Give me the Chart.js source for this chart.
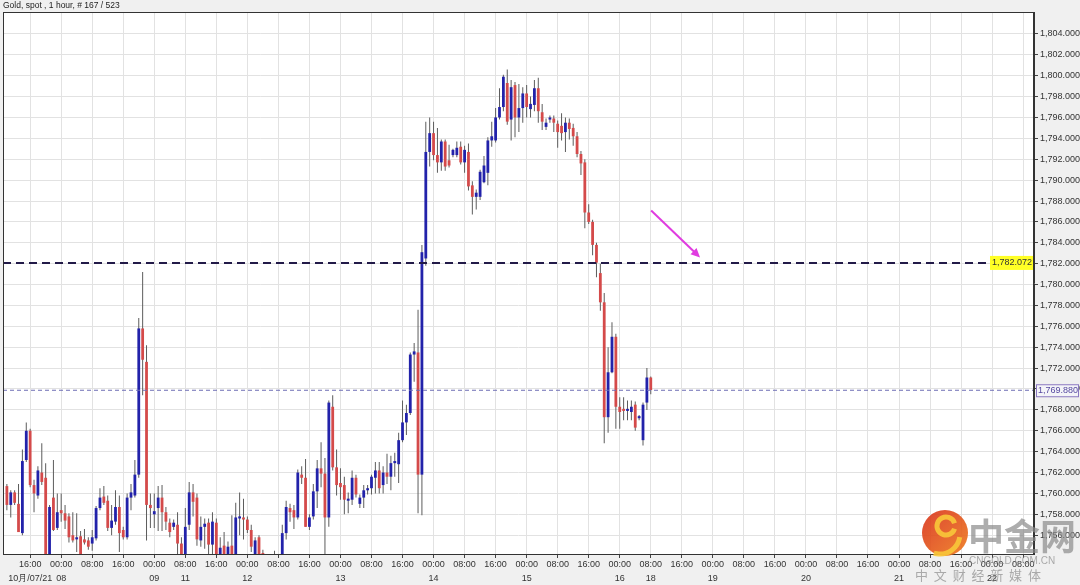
<!DOCTYPE html>
<html>
<head>
<meta charset="utf-8">
<script src="https://cdn.jsdelivr.net/npm/chart.js@4.4.1/dist/chart.umd.min.js"></script>
<style>
  html, body { margin: 0; padding: 0; background: #f0f0f0; }
  #wrap { width: 1080px; height: 585px; }
</style>
</head>
<body>
<div id="wrap"><canvas id="grafico_ouro" width="1080" height="585"></canvas></div>
<script>
// barras de 1 hora, a primeira fica 6 horas antes do tick "16:00" de 10/07
const primeiraHora = -6;

const aberturas = [
  1760.7, 1758.9, 1760.1, 1759.0, 1756.2, 1763.2,
  1766.0, 1760.8, 1759.8, 1762.0, 1761.5, 1753.8, 1759.6, 1756.7, 1758.4, 1758.1,
  1757.8, 1756.0, 1755.6, 1755.9, 1755.6, 1755.5, 1755.2, 1755.7, 1758.6, 1759.7,
  1759.3, 1756.7, 1757.3, 1758.7, 1756.5, 1755.8, 1759.6, 1759.8, 1761.8, 1775.8,
  1772.6, 1758.9, 1758.0, 1758.6, 1759.6, 1758.2, 1757.2, 1756.8, 1757.0, 1755.2,
  1753.9, 1757.0, 1760.1, 1759.6, 1755.5, 1756.8, 1757.2, 1755.1, 1757.2, 1753.9,
  1755.0, 1753.9, 1755.0, 1753.9, 1757.6, 1757.7, 1757.5, 1756.5, 1753.9, 1755.8,
  1754.3, 1753.9, 1753.5, 1753.7, 1753.4, 1753.8, 1756.2, 1758.6, 1758.4, 1757.7,
  1761.8, 1761.5, 1756.8, 1757.8, 1760.2, 1762.4, 1761.9, 1757.7, 1768.3, 1762.5,
  1761.0, 1760.8, 1759.3, 1759.4, 1761.5, 1759.0, 1759.6, 1760.3, 1760.5, 1761.5,
  1762.2, 1760.8, 1762.0, 1761.6, 1762.9, 1762.8, 1765.1, 1766.8, 1767.7, 1773.3,
  1773.5, 1761.8, 1782.5, 1792.7, 1794.5, 1792.4, 1791.7, 1793.7, 1791.9, 1792.4,
  1792.4, 1793.2, 1791.7, 1792.7, 1789.5, 1788.4, 1788.4, 1789.8, 1790.7, 1793.8,
  1793.8, 1796.0, 1797.0, 1799.3, 1795.8, 1799.1, 1796.0, 1796.9, 1798.3, 1796.8,
  1797.2, 1798.8, 1796.5, 1795.1, 1795.8, 1795.9, 1795.4, 1795.2, 1794.6, 1795.5,
  1795.0, 1794.2, 1792.5, 1791.7, 1786.9, 1786.0, 1783.8, 1781.1, 1778.3, 1767.3,
  1771.6, 1775.0, 1768.3, 1768.1, 1767.9, 1767.8, 1768.5, 1767.2, 1765.1, 1768.7,
  1771.1
];
const maximas = [
  1760.9, 1760.3, 1760.3, 1760.9, 1764.2, 1766.8,
  1766.2, 1761.3, 1762.6, 1764.8, 1762.9, 1758.9, 1763.2, 1760.0, 1760.0, 1758.9,
  1758.1, 1758.2, 1758.1, 1756.4, 1756.6, 1755.8, 1756.5, 1758.8, 1760.5, 1760.7,
  1759.8, 1758.9, 1760.3, 1759.8, 1756.8, 1760.0, 1760.9, 1763.2, 1776.8, 1781.2,
  1774.2, 1760.0, 1760.0, 1760.7, 1760.8, 1758.7, 1757.6, 1757.5, 1758.2, 1755.8,
  1758.6, 1761.1, 1760.9, 1760.0, 1757.8, 1757.6, 1757.6, 1758.2, 1757.6, 1755.8,
  1756.3, 1755.4, 1757.9, 1759.1, 1760.1, 1759.5, 1757.8, 1757.0, 1755.8, 1756.0,
  1754.6, 1754.0, 1753.9, 1754.5, 1753.9, 1757.0, 1759.3, 1759.0, 1758.9, 1762.3,
  1762.6, 1763.3, 1758.0, 1760.9, 1763.2, 1764.9, 1763.4, 1768.9, 1769.4, 1764.2,
  1762.4, 1761.6, 1760.1, 1762.2, 1761.8, 1759.9, 1760.8, 1760.8, 1761.8, 1763.0,
  1763.0, 1762.6, 1763.8, 1763.6, 1763.9, 1765.8, 1768.9, 1768.5, 1773.5, 1774.4,
  1777.6, 1783.8, 1795.6, 1796.0, 1795.6, 1795.0, 1793.9, 1793.9, 1793.4, 1793.0,
  1793.7, 1793.7, 1793.3, 1793.5, 1789.9, 1789.1, 1791.0, 1792.3, 1794.1, 1795.6,
  1796.9, 1798.8, 1800.1, 1800.6, 1799.6, 1799.4, 1799.2, 1798.9, 1799.1, 1798.0,
  1799.6, 1799.8, 1797.3, 1795.9, 1796.2, 1796.2, 1795.7, 1796.4, 1796.0, 1795.9,
  1795.4, 1794.6, 1792.8, 1792.0, 1787.7, 1786.2, 1784.0, 1782.0, 1779.2, 1774.0,
  1776.4, 1775.3, 1769.2, 1769.2, 1768.9, 1768.9, 1768.8, 1767.5, 1768.7, 1772.0,
  1771.2
];
const minimas = [
  1758.4, 1757.7, 1758.9, 1756.3, 1756.0, 1763.0,
  1760.6, 1758.2, 1759.5, 1760.8, 1753.6, 1753.6, 1756.4, 1756.5, 1757.3, 1756.6,
  1755.3, 1755.3, 1754.4, 1753.6, 1755.1, 1754.6, 1754.5, 1755.5, 1758.4, 1758.9,
  1756.4, 1756.0, 1757.0, 1754.4, 1755.6, 1755.6, 1758.4, 1759.6, 1761.5, 1769.4,
  1755.5, 1756.7, 1756.7, 1756.4, 1756.4, 1756.5, 1755.8, 1756.5, 1754.0, 1753.6,
  1753.6, 1756.5, 1757.8, 1755.0, 1754.9, 1754.7, 1753.8, 1753.8, 1753.6, 1753.6,
  1753.6, 1753.6, 1753.6, 1753.6, 1756.0, 1755.6, 1756.2, 1754.4, 1753.6, 1753.6,
  1753.6, 1753.2, 1753.0, 1753.2, 1753.0, 1753.6, 1755.6, 1757.3, 1756.6, 1757.5,
  1760.9, 1756.8, 1756.5, 1757.5, 1758.6, 1760.6, 1753.9, 1756.8, 1762.2, 1759.8,
  1759.4, 1758.0, 1758.1, 1758.9, 1759.6, 1758.6, 1758.6, 1759.9, 1759.9, 1760.0,
  1760.0, 1760.0, 1760.9, 1760.3, 1761.6, 1761.0, 1764.9, 1765.6, 1767.5, 1770.7,
  1758.1, 1757.9, 1781.8, 1791.3, 1791.9, 1790.7, 1790.9, 1790.9, 1791.2, 1792.2,
  1792.2, 1791.5, 1790.7, 1789.0, 1786.7, 1787.2, 1788.1, 1789.7, 1789.5, 1793.2,
  1793.6, 1795.8, 1796.6, 1795.3, 1793.8, 1794.1, 1794.6, 1795.5, 1796.0, 1796.0,
  1796.6, 1795.5, 1794.8, 1794.8, 1795.5, 1794.6, 1793.1, 1793.8, 1792.7, 1793.9,
  1793.3, 1792.2, 1790.5, 1785.4, 1785.8, 1782.8, 1780.7, 1777.5, 1764.8, 1765.8,
  1771.5, 1766.2, 1766.2, 1767.0, 1767.0, 1767.0, 1766.0, 1767.0, 1764.6, 1768.0,
  1769.5
];
const fechamentos = [
  1758.9, 1760.1, 1759.1, 1756.3, 1763.1, 1766.0,
  1760.8, 1760.0, 1762.2, 1761.1, 1753.8, 1758.7, 1756.5, 1758.2, 1758.1, 1757.4,
  1755.8, 1755.5, 1755.8, 1753.8, 1755.3, 1754.9, 1755.8, 1758.6, 1759.6, 1759.1,
  1756.7, 1757.4, 1758.7, 1756.2, 1755.8, 1759.6, 1760.1, 1761.8, 1775.8, 1772.8,
  1758.9, 1758.6, 1758.3, 1759.6, 1758.2, 1757.3, 1756.3, 1757.2, 1755.2, 1753.9,
  1756.8, 1760.1, 1759.2, 1755.6, 1756.8, 1757.1, 1755.1, 1757.3, 1753.9, 1754.8,
  1753.9, 1754.9, 1753.9, 1757.7, 1757.8, 1757.5, 1756.5, 1754.9, 1755.5, 1753.9,
  1754.0, 1753.5, 1753.7, 1753.4, 1753.8, 1756.2, 1758.7, 1758.2, 1757.7, 1762.0,
  1761.5, 1756.8, 1757.7, 1760.2, 1762.4, 1761.9, 1757.7, 1768.7, 1762.5, 1760.8,
  1760.6, 1759.4, 1759.5, 1761.5, 1759.9, 1759.6, 1760.3, 1760.5, 1761.6, 1762.2,
  1760.5, 1762.0, 1761.6, 1762.9, 1763.1, 1765.1, 1766.8, 1767.7, 1773.3, 1773.6,
  1761.8, 1783.1, 1792.7, 1794.5, 1792.4, 1791.7, 1793.7, 1791.3, 1791.4, 1792.9,
  1793.1, 1791.7, 1792.9, 1789.4, 1788.4, 1788.8, 1790.8, 1791.4, 1793.8, 1794.2,
  1796.0, 1797.0, 1799.9, 1795.6, 1798.9, 1796.0, 1796.9, 1798.3, 1797.0, 1797.3,
  1798.8, 1796.6, 1795.6, 1795.5, 1796.0, 1795.5, 1794.6, 1794.5, 1795.5, 1794.9,
  1794.2, 1792.5, 1791.6, 1786.9, 1786.0, 1783.8, 1782.1, 1778.3, 1767.3, 1771.6,
  1775.0, 1768.3, 1767.8, 1767.9, 1768.1, 1768.3, 1766.3, 1767.4, 1768.5, 1771.1,
  1769.9
];

// rótulos do eixo de tempo (um tick a cada 8 barras)
const horasEixo = ['16:00', '00:00', '08:00'];
const posDatas = [0, 8, 32, 40, 56, 80, 104, 128, 152, 160, 176, 200, 224, 248];
const textoDatas = ['10月/07/21', '08', '09', '11', '12', '13', '14', '15', '16', '18', '19', '20', '21', '22'];
const ticksPreco = [1756, 1758, 1760, 1762, 1764, 1766, 1768, 1770, 1772, 1774, 1776, 1778, 1780,
  1782, 1784, 1786, 1788, 1790, 1792, 1794, 1796, 1798, 1800, 1802, 1804];

const precoMarcado = 1782.072;
const ultimoPreco = 1769.88;

const xMin = -7, xMax = 258.8;
const ticksTempo = [];
for (let h = 0; h <= 256; h += 8) ticksTempo.push(h);

const azul = '#2222aa';
const vermelho = '#d44a4a';

const corpos = aberturas.map((o, i) => ({ x: i + primeiraHora, y: [o, fechamentos[i]] }));
const pavios = minimas.map((l, i) => ({ x: i + primeiraHora, y: [l, maximas[i]] }));
const coresCorpo = aberturas.map((o, i) => fechamentos[i] >= o ? azul : vermelho);

const fmtPreco = v => v.toLocaleString('en-US', { minimumFractionDigits: 3, maximumFractionDigits: 3 });

const fundo = {
  id: 'fundo',
  beforeDraw(chart) {
    const { ctx, chartArea: a } = chart;
    ctx.save();
    ctx.fillStyle = '#f0f0f0';
    ctx.fillRect(0, 0, chart.width, chart.height);
    ctx.fillStyle = '#ffffff';
    ctx.fillRect(a.left, a.top, a.right - a.left, a.bottom - a.top);
    ctx.restore();
  }
};

const extras = {
  id: 'extras',
  afterDraw(chart) {
    const { ctx, chartArea: a } = chart;
    const xs = chart.scales.x, ys = chart.scales.y;
    ctx.save();

    // moldura
    ctx.strokeStyle = '#333';
    ctx.lineWidth = 1;
    ctx.strokeRect(a.left + 0.5, a.top + 0.5, a.right - a.left - 1, a.bottom - a.top);

    // titulo
    ctx.fillStyle = '#222';
    ctx.font = '8.5px "Liberation Sans", Arial, sans-serif';
    ctx.textBaseline = 'middle';
    ctx.textAlign = 'left';
    ctx.fillText('Gold, spot , 1 hour, # 167 / 523', 3, 6);

    // etiqueta amarela
    ctx.font = '9px "Liberation Sans", Arial, sans-serif';
    let y = ys.getPixelForValue(precoMarcado);
    ctx.fillStyle = '#ffff26';
    ctx.fillRect(a.right - 44, y - 7, 43, 14);
    ctx.fillStyle = '#333';
    ctx.textAlign = 'right';
    ctx.fillText(fmtPreco(precoMarcado), a.right - 2, y);

    // etiqueta do ultimo preco
    y = ys.getPixelForValue(ultimoPreco);
    ctx.fillStyle = '#f4f4f8';
    ctx.fillRect(a.right + 2, y - 6, 43, 12);
    ctx.strokeStyle = '#8a78c0';
    ctx.strokeRect(a.right + 2.5, y - 5.5, 42, 12);
    ctx.fillStyle = '#5548a0';
    ctx.textAlign = 'left';
    ctx.fillText(fmtPreco(ultimoPreco), a.right + 4, y + 0.5);

    // seta magenta
    const x1 = xs.getPixelForValue(160.1), y1 = ys.getPixelForValue(1787.1);
    const x2 = xs.getPixelForValue(172.7), y2 = ys.getPixelForValue(1782.6);
    const ang = Math.atan2(y2 - y1, x2 - x1);
    ctx.strokeStyle = '#e03ce0';
    ctx.fillStyle = '#e03ce0';
    ctx.lineWidth = 2;
    ctx.beginPath();
    ctx.moveTo(x1, y1);
    ctx.lineTo(x2 - 6 * Math.cos(ang), y2 - 6 * Math.sin(ang));
    ctx.stroke();
    ctx.beginPath();
    ctx.moveTo(x2, y2);
    ctx.lineTo(x2 - 10 * Math.cos(ang - 0.45), y2 - 10 * Math.sin(ang - 0.45));
    ctx.lineTo(x2 - 10 * Math.cos(ang + 0.45), y2 - 10 * Math.sin(ang + 0.45));
    ctx.closePath();
    ctx.fill();

    // marca d'agua
    ctx.globalAlpha = 0.9;
    const g = ctx.createLinearGradient(922, 510, 968, 556);
    g.addColorStop(0, '#d8301a');
    g.addColorStop(1, '#ee7a1a');
    ctx.fillStyle = g;
    ctx.beginPath();
    ctx.arc(945, 533, 23, 0, Math.PI * 2);
    ctx.fill();
    ctx.strokeStyle = '#f8c83a';
    ctx.lineWidth = 5;
    ctx.beginPath();
    ctx.arc(946, 526, 9, Math.PI * 0.1, Math.PI * 1.9);
    ctx.stroke();
    ctx.beginPath();
    ctx.arc(940, 534, 20, Math.PI * 0.05, Math.PI * 0.6);
    ctx.stroke();

    ctx.globalAlpha = 0.7;
    ctx.fillStyle = '#8a8a8a';
    ctx.textAlign = 'left';
    ctx.textBaseline = 'alphabetic';
    ctx.font = 'bold 36px "Noto Sans CJK SC", sans-serif';
    ctx.fillText('中金网', 968, 550);
    ctx.font = '10px "Liberation Sans", Arial, sans-serif';
    ctx.fillText('CNGOLD.COM.CN', 969, 564);
    ctx.font = '13px "Noto Sans CJK SC", sans-serif';
    ctx.fillText('中  文  财  经  新  媒  体', 915, 580);
    ctx.restore();
  }
};

const ctx = document.getElementById('grafico_ouro').getContext('2d');
const grafico = new Chart(ctx, {
  type: 'bar',
  data: {
    datasets: [
      {
        label: 'pavio',
        data: pavios,
        backgroundColor: '#5c5c5c',
        grouped: false,
        maxBarThickness: 1,
        order: 4
      },
      {
        label: 'corpo',
        data: corpos,
        backgroundColor: coresCorpo,
        grouped: false,
        maxBarThickness: 3,
        minBarLength: 1,
        order: 3
      },
      {
        type: 'line',
        label: 'marcado',
        data: [{ x: xMin, y: precoMarcado }, { x: xMax, y: precoMarcado }],
        borderColor: '#221a48',
        borderWidth: 2,
        borderDash: [8, 5],
        pointRadius: 0,
        order: 1
      },
      {
        type: 'line',
        label: 'ultimo',
        data: [{ x: xMin, y: ultimoPreco }, { x: xMax, y: ultimoPreco }],
        borderColor: '#6c6cb4',
        borderWidth: 1,
        borderDash: [4, 3],
        pointRadius: 0,
        order: 2
      }
    ]
  },
  options: {
    responsive: false,
    animation: false,
    layout: { padding: { left: 3, top: 12, right: 0, bottom: 0 } },
    plugins: {
      legend: { display: false },
      tooltip: { enabled: false }
    },
    scales: {
      x: {
        type: 'linear',
        min: xMin,
        max: xMax,
        offset: false,
        afterBuildTicks: s => { s.ticks = ticksTempo.map(v => ({ value: v })); },
        afterFit: s => { s.height = 31; },
        grid: { offset: false, color: '#e2e2e2', tickColor: '#444', tickLength: 4 },
        border: { color: '#333' },
        ticks: {
          autoSkip: false,
          maxRotation: 0,
          padding: 0,
          color: '#333',
          font: { family: '"Liberation Sans", Arial, sans-serif', size: 9, lineHeight: 1.5 },
          callback: v => {
            const k = posDatas.indexOf(v);
            return [horasEixo[(v / 8) % 3], k >= 0 ? textoDatas[k] : ''];
          }
        }
      },
      y: {
        position: 'right',
        min: 1754.2,
        max: 1806.1,
        afterBuildTicks: s => { s.ticks = ticksPreco.map(v => ({ value: v })); },
        afterFit: s => { s.width = 46; },
        grid: { offset: false, color: '#e2e2e2', tickColor: '#444', tickLength: 4 },
        border: { color: '#333' },
        ticks: {
          padding: 2,
          color: '#333',
          font: { family: '"Liberation Sans", Arial, sans-serif', size: 9 },
          callback: v => fmtPreco(v)
        }
      }
    }
  },
  plugins: [fundo, extras]
});
</script>
</body>
</html>
